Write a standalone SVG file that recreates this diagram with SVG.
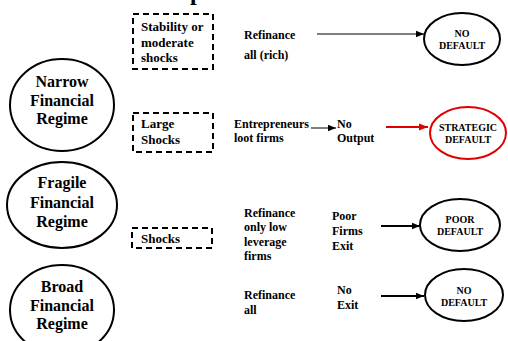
<svg xmlns="http://www.w3.org/2000/svg" width="508" height="341" viewBox="0 0 508 341">
<defs>
<style>
text{font-family:"Liberation Serif","Times New Roman",serif;font-weight:bold;fill:#000}
.reg{font-size:16px;text-anchor:middle}
.box{font-size:13px}
.mid{font-size:12px}
.res{font-size:10px;text-anchor:middle}
.dash{fill:none;stroke:#000;stroke-width:2;stroke-dasharray:6,4}
.ell{fill:#fff;stroke:#000;stroke-width:2}
.thin{stroke:#000;stroke-width:1;fill:none}
.thick{stroke:#000;stroke-width:2;fill:none}
</style>
<marker id="ah" viewBox="0 0 10 10" refX="10" refY="5" markerWidth="8" markerHeight="8" markerUnits="userSpaceOnUse" orient="auto"><path d="M0,1 L10,5 L0,9 Z" fill="#000"/></marker>
<marker id="ahr" viewBox="0 0 10 10" refX="10" refY="5" markerWidth="9" markerHeight="9" markerUnits="userSpaceOnUse" orient="auto"><path d="M0,1 L10,5 L0,9 Z" fill="#e00000"/></marker>
</defs>
<rect width="508" height="341" fill="#fff"/>
<text x="190" y="0" style="font-size:24px">p</text>

<g id="narrow">
<ellipse class="ell" cx="62" cy="105" rx="52" ry="46"/>
<text class="reg" x="62" y="87">Narrow</text>
<text class="reg" x="62" y="106">Financial</text>
<text class="reg" x="62" y="124">Regime</text>
</g>
<g id="fragile">
<ellipse class="ell" cx="62" cy="205" rx="55" ry="43"/>
<text class="reg" x="62" y="188">Fragile</text>
<text class="reg" x="62" y="208">Financial</text>
<text class="reg" x="62" y="227">Regime</text>
</g>
<g id="broad">
<ellipse class="ell" cx="62" cy="310" rx="52" ry="45"/>
<text class="reg" x="62" y="292">Broad</text>
<text class="reg" x="62" y="311">Financial</text>
<text class="reg" x="62" y="329">Regime</text>
</g>

<g id="box-stability">
<rect class="dash" x="133" y="14" width="80" height="55"/>
<text class="box" x="141" y="31">Stability or</text>
<text class="box" x="141" y="47">moderate</text>
<text class="box" x="141" y="62">shocks</text>
</g>
<g id="box-large">
<rect class="dash" x="133" y="113" width="80" height="39"/>
<text class="box" x="141" y="128">Large</text>
<text class="box" x="141" y="144">Shocks</text>
</g>
<g id="box-shocks">
<rect class="dash" x="132" y="228" width="80" height="20"/>
<text class="box" x="141" y="243">Shocks</text>
</g>

<g id="refinance-rich">
<text class="mid" x="244" y="39">Refinance</text>
<text class="mid" x="244" y="59">all (rich)</text>
</g>
<g id="entrepreneurs">
<text class="mid" x="234" y="128">Entrepreneurs</text>
<text class="mid" x="234" y="142">loot firms</text>
</g>
<g id="no-output">
<text class="mid" x="337" y="128">No</text>
<text class="mid" x="337" y="142">Output</text>
</g>
<g id="refinance-low">
<text class="mid" x="244" y="217">Refinance</text>
<text class="mid" x="244" y="231">only low</text>
<text class="mid" x="244" y="246">leverage</text>
<text class="mid" x="244" y="260">firms</text>
</g>
<g id="poor-firms-exit">
<text class="mid" x="332" y="220">Poor</text>
<text class="mid" x="332" y="235">Firms</text>
<text class="mid" x="332" y="250">Exit</text>
</g>
<g id="refinance-all">
<text class="mid" x="244" y="299">Refinance</text>
<text class="mid" x="244" y="314">all</text>
</g>
<g id="no-exit">
<text class="mid" x="337" y="294">No</text>
<text class="mid" x="337" y="309">Exit</text>
</g>

<g id="no-default-1">
<ellipse class="ell" cx="462" cy="39" rx="38" ry="26"/>
<text class="res" x="462" y="37">NO</text>
<text class="res" x="462" y="49">DEFAULT</text>
</g>
<g id="strategic-default">
<ellipse cx="468" cy="133" rx="38" ry="26" fill="#fff" stroke="#e00000" stroke-width="2"/>
<text class="res" x="468" y="131">STRATEGIC</text>
<text class="res" x="468" y="143">DEFAULT</text>
</g>
<g id="poor-default">
<ellipse class="ell" cx="460" cy="225" rx="40" ry="26"/>
<text class="res" x="460" y="223">POOR</text>
<text class="res" x="460" y="235">DEFAULT</text>
</g>
<g id="no-default-2">
<ellipse class="ell" cx="464" cy="295" rx="39" ry="26"/>
<text class="res" x="464" y="294">NO</text>
<text class="res" x="464" y="306">DEFAULT</text>
</g>

<g id="connectors">
<line class="thin" x1="317" y1="34" x2="424" y2="34" marker-end="url(#ah)"/>
<line class="thin" x1="311" y1="128" x2="336" y2="128" marker-end="url(#ah)"/>
<line x1="386" y1="127" x2="428" y2="127" stroke="#e00000" stroke-width="2" marker-end="url(#ahr)"/>
<line class="thick" x1="381" y1="226" x2="420" y2="226" marker-end="url(#ah)"/>
<line class="thick" x1="381" y1="296" x2="424" y2="296" marker-end="url(#ah)"/>
</g>
</svg>
